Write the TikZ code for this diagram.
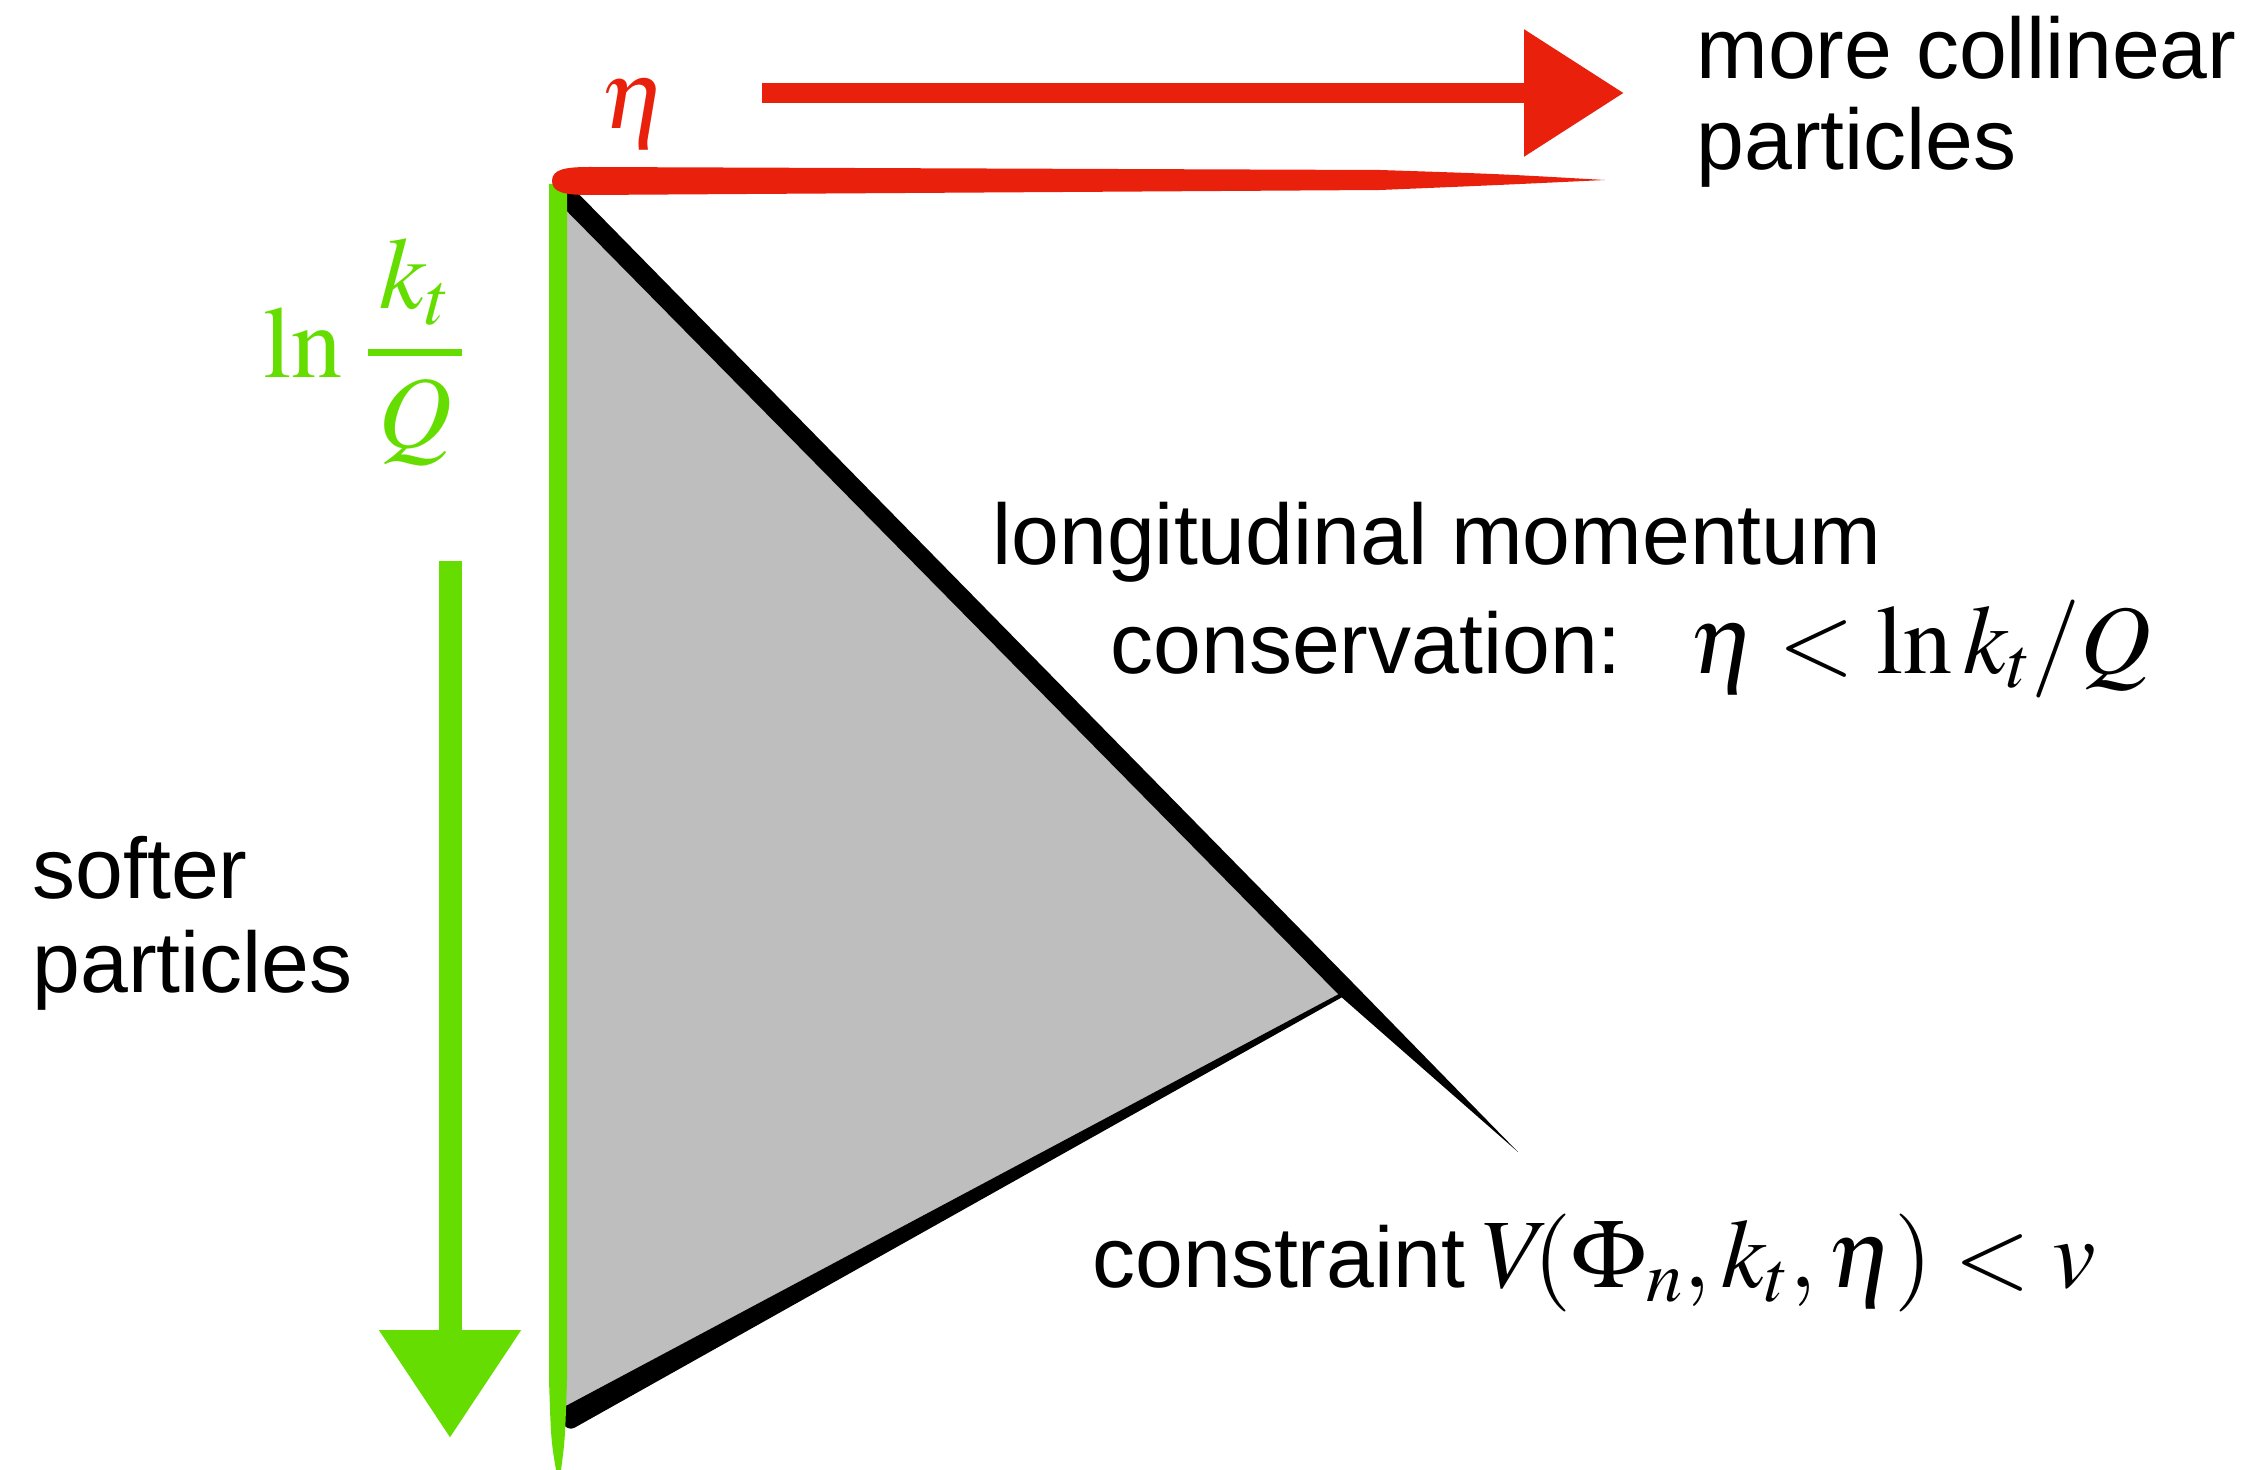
\documentclass[tikz,border=0pt]{standalone}
\usepackage{amsmath}
\usepackage{mathptmx}
\usepackage[no-math]{fontspec}
\setmainfont{Liberation Sans}
\usetikzlibrary{arrows.meta}
\definecolor{etared}{RGB}{233,33,12}
\definecolor{ktgreen}{RGB}{102,221,0}
\definecolor{regiongray}{RGB}{190,190,190}

\begin{document}
\begin{tikzpicture}[
    x=0.5pt, y=-0.5pt,
    txt/.style={anchor=base west, inner sep=0pt, font=\fontsize{43}{52}\selectfont},
    mth/.style={anchor=base west, inner sep=0pt, font=\fontsize{49}{60}\selectfont}
]
\useasboundingbox (0,0) rectangle (2254,1470);
\coordinate (apex) at (558,187);
\coordinate (corner) at (1346,990);
\coordinate (base) at (566,1418);
\coordinate (diagend) at (1518,1152);
\coordinate (etastart) at (762,93);
\coordinate (etatip) at (1624,93);
\coordinate (ktstart) at (450,561);
\coordinate (kttip) at (450,1438);

\fill[regiongray] (apex) -- (corner) -- (base) -- cycle;
\fill (565,180) -- (1352,982) -- (diagend) -- (1339,995) -- (552,196) -- cycle;
\fill (562,1408) -- (1352,987) -- (1346,995) -- (574,1428) .. controls (565,1432) and (557,1418) .. (562,1408) -- cycle;
\fill[ktgreen] (549,184) -- (567,184) -- (567,1380) .. controls (565,1440) .. (561,1470) -- (556,1470) .. controls (551,1440) .. (549,1380) -- cycle;
\fill[etared] (552,181) .. controls (552,169) and (566,167) .. (590,167) -- (1380,170) .. controls (1500,174) .. (1605,180) .. controls (1500,185) .. (1380,190) -- (590,195) .. controls (566,195) and (552,193) .. (552,181) -- cycle;

\draw[etared, line width=10pt, -{Triangle[length=50pt,width=61pt]}] (etastart) -- (etatip);
\draw[ktgreen, line width=11.5pt, -{Triangle[length=54pt,width=68pt]}] (ktstart) -- (kttip);

\node[mth, anchor=center, text=etared] (etalbl) at (634,114) {$\eta$};
\node[inner sep=0pt, anchor=base west, text=ktgreen, font=\fontsize{51}{60}\selectfont] (ktlbl) at (263,378) {$\displaystyle \ln\mskip2mu\genfrac{}{}{3.5pt}{0}{\kern6pt k_t\kern6pt}{Q}$};

\node[txt] (collinear) at (1696,79) {more collinear};
\node[txt] (collinearb) at (1696,170) {particles};
\node[txt] (longit) at (992,565) {longitudinal momentum};
\node[txt] (conserv) at (1110,673) {conservation:};
\node[mth] (conservmath) at (1689,673) {$\eta < \ln k_t/Q$};
\node[txt] (softer) at (32,898) {softer};
\node[txt] (softerb) at (32,992) {particles};
\node[txt] (constr) at (1092,1287) {constraint};
\node[mth] (constrmath) at (1482,1287) {$V\mkern-3mu(\Phi_n, k_t, \eta) < v$};
\end{tikzpicture}
\end{document}
